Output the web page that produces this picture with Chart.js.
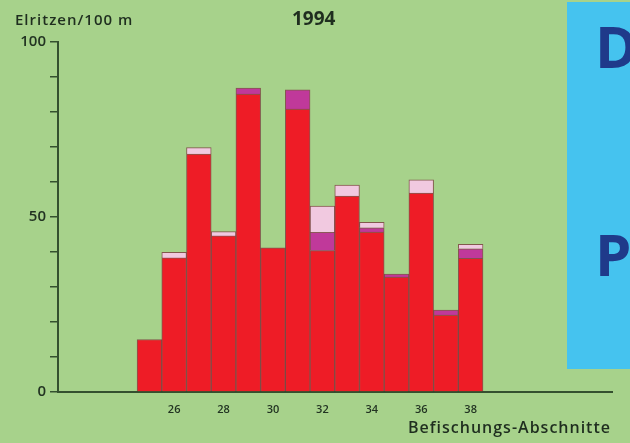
<!DOCTYPE html>
<html>
<head>
<meta charset="utf-8">
<script src="https://cdn.jsdelivr.net/npm/chart.js@4"></script>
<style>
  html, body { margin:0; padding:0; background:#a7d28b; }
  #wrap { position:relative; width:630px; height:443px; overflow:hidden; background:#a7d28b; }
  #panel { position:absolute; left:567px; top:2px; width:63px; height:367px; background:#45c3ef; }
  .big { position:absolute; font-family:"Open Sans", sans-serif; font-weight:700; font-size:58px; line-height:58px; color:#1f3a8a; }
  .txt { position:absolute; font-family:"Open Sans", sans-serif; font-weight:600; color:#1f2e1f; white-space:nowrap; }
  canvas { position:absolute; left:0; top:0; }
</style>
</head>
<body>
<div id="wrap">
  <div id="panel"></div>
  <div class="big" style="left:595px; top:17px;">D</div>
  <div class="big" style="left:595px; top:225px;">P</div>
  <canvas id="c" width="630" height="443"></canvas>
  <div class="txt" style="left:15px; top:12px; font-size:15px; line-height:15px; letter-spacing:1.0px;">Elritzen/100 m</div>
  <div class="txt" style="left:292px; top:9px; font-size:19px; line-height:19px; font-weight:700;">1994</div>
  <div class="txt" style="left:408px; top:419px; font-size:16px; line-height:16px; letter-spacing:1.0px;">Befischungs-Abschnitte</div>
</div>
<script>
const sections   = [25, 26, 27, 28, 29, 30, 31, 32, 33, 34, 35, 36, 37, 38];
const redVals    = [15, 38.3, 68, 44.6, 85.1, 41.2, 80.8, 40.4, 56, 45.7, 32.8, 56.8, 22, 38.2];
const purpleVals = [null, null, null, null, 1.7, null, 5.5, 5.2, null, 1.2, 0.9, null, 1.4, 2.7];
const pinkVals   = [null, 1.6, 1.8, 1.2, null, null, null, 7.5, 3.1, 1.6, null, 3.8, null, 1.3];
const xTickVals  = [26, 28, 30, 32, 34, 36, 38];
const yTickVals  = [0, 50, 100];

const axisColor = '#34502f';
const textColor = '#223322';
const edge = 'rgba(110,25,45,0.65)';

function pts(vals) { return sections.map((s, i) => ({ x: s, y: vals[i] })); }

new Chart(document.getElementById('c'), {
  type: 'bar',
  data: {
    datasets: [
      { label: 'rot', data: pts(redVals), backgroundColor: '#ee1c26', borderColor: edge, borderWidth: 1 },
      { label: 'violett', data: pts(purpleVals), backgroundColor: '#c0399a', borderColor: edge, borderWidth: 1 },
      { label: 'rosa', data: pts(pinkVals), backgroundColor: '#f1c9e0', borderColor: edge, borderWidth: 1 }
    ]
  },
  options: {
    responsive: false,
    animation: false,
    devicePixelRatio: 1,
    barPercentage: 1,
    categoryPercentage: 1,
    layout: { padding: { left: 0, right: 18, top: 42, bottom: 0 } },
    plugins: { legend: { display: false }, tooltip: { enabled: false }, title: { display: false } },
    scales: {
      x: {
        type: 'linear',
        min: 21.3,
        max: 43.72,
        offset: false,
        stacked: true,
        grid: { display: false, drawTicks: false },
        border: { display: true, color: axisColor, width: 2 },
        ticks: {
          color: textColor, padding: 11, autoSkip: false, maxRotation: 0,
          font: { family: 'Open Sans', size: 11, weight: '600' },
          callback: v => String(v)
        },
        afterBuildTicks: axis => { axis.ticks = xTickVals.map(v => ({ value: v })); },
        afterFit: axis => { axis.height = 51; }
      },
      y: {
        min: 0,
        max: 100,
        stacked: true,
        grid: { drawOnChartArea: false, drawTicks: true, tickLength: 8, color: axisColor, lineWidth: 1.5 },
        border: { display: true, color: axisColor, width: 2 },
        ticks: {
          stepSize: 10, color: textColor, padding: 4,
          font: { family: 'Open Sans', size: 15, weight: '600' },
          callback: v => yTickVals.includes(v) ? String(v) : ''
        },
        afterFit: axis => { axis.width = 58; }
      }
    }
  }
});
</script>
</body>
</html>
